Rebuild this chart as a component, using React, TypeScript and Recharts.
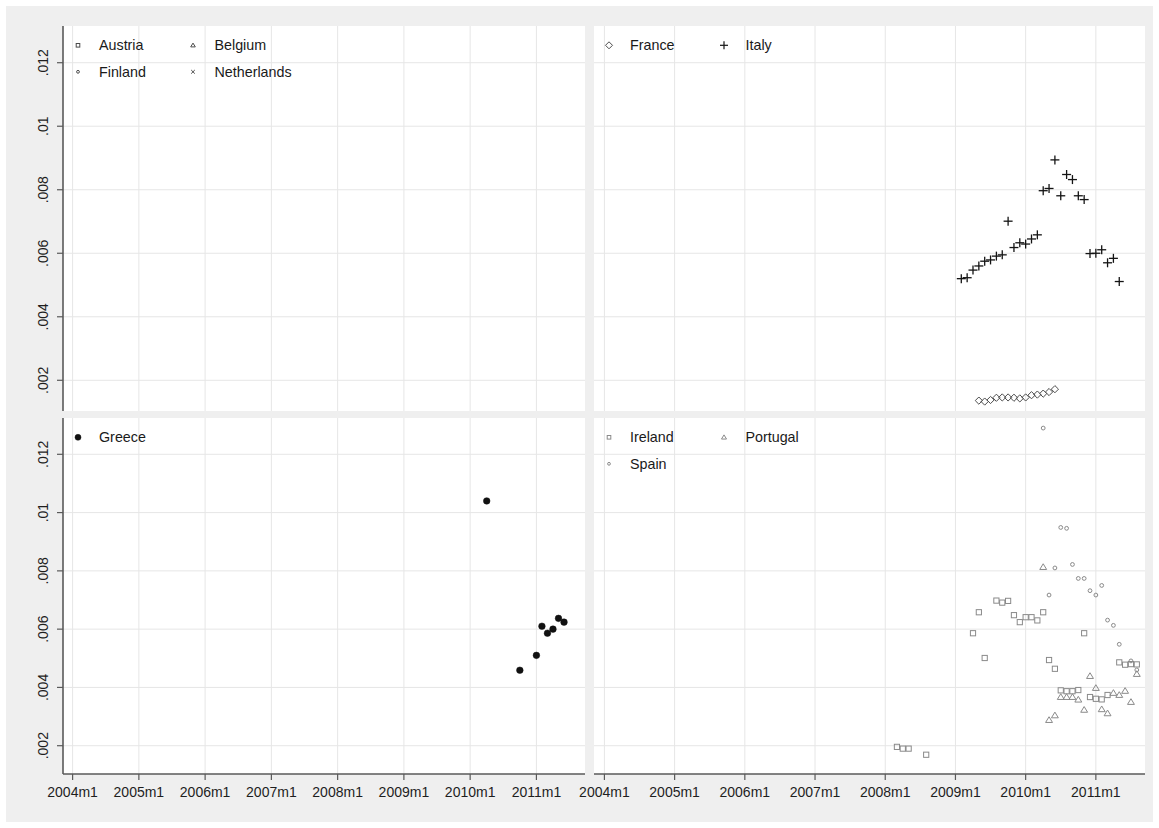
import React from 'react';
import { ScatterChart, Scatter, XAxis, YAxis, CartesianGrid, Legend } from 'recharts';

const FONT = '"Liberation Sans", Arial, Helvetica, sans-serif';
const W = 1159;
const H = 828;

// ---------- axes ----------
const xTickLabels = ['2004m1', '2005m1', '2006m1', '2007m1', '2008m1', '2009m1', '2010m1', '2011m1'];
const yTickValues = [0.002, 0.004, 0.006, 0.008, 0.01, 0.012];
const yTickLabels = ['.002', '.004', '.006', '.008', '.01', '.012'];

const toMonth = (s: string) => {
  const [y, m] = s.split('m').map(Number);
  return (y - 2004) * 12 + (m - 1);
};
const xTickValues = xTickLabels.map(toMonth);

// ---------- data ----------
const italyDates = [
  '2009m2', '2009m3', '2009m4', '2009m5', '2009m6', '2009m7', '2009m8', '2009m9', '2009m10', '2009m11', '2009m12',
  '2010m1', '2010m2', '2010m3', '2010m4', '2010m5', '2010m6', '2010m7', '2010m8', '2010m9', '2010m10', '2010m11', '2010m12',
  '2011m1', '2011m2', '2011m3', '2011m4', '2011m5',
];
const italyValues = [
  0.0052, 0.00523, 0.00547, 0.0056, 0.00575, 0.00579, 0.00591, 0.00595, 0.00701, 0.00618, 0.00633,
  0.00629, 0.00645, 0.00658, 0.00797, 0.00804, 0.00894, 0.00781, 0.00848, 0.00832, 0.00781, 0.00769, 0.00599,
  0.006, 0.00611, 0.0057, 0.00584, 0.00511,
];

const franceDates = [
  '2009m5', '2009m6', '2009m7', '2009m8', '2009m9', '2009m10', '2009m11', '2009m12',
  '2010m1', '2010m2', '2010m3', '2010m4', '2010m5', '2010m6',
];
const franceValues = [
  0.00136, 0.00133, 0.00138, 0.00145, 0.00146, 0.00146, 0.00145, 0.00143,
  0.00146, 0.00153, 0.00155, 0.00158, 0.00163, 0.00172,
];

const greeceDates = ['2010m4', '2010m10', '2011m1', '2011m2', '2011m3', '2011m4', '2011m5', '2011m6'];
const greeceValues = [0.0104, 0.00459, 0.0051, 0.0061, 0.00586, 0.006, 0.00637, 0.00624];

const irelandDates = [
  '2008m3', '2008m4', '2008m5', '2008m8',
  '2009m4', '2009m5', '2009m6', '2009m8', '2009m9', '2009m10', '2009m11', '2009m12',
  '2010m1', '2010m2', '2010m3', '2010m4', '2010m5', '2010m6', '2010m7', '2010m8', '2010m9', '2010m10', '2010m11', '2010m12',
  '2011m1', '2011m2', '2011m3', '2011m5', '2011m6', '2011m7', '2011m8',
];
const irelandValues = [
  0.00196, 0.0019, 0.0019, 0.00169,
  0.00586, 0.00658, 0.00501, 0.00698, 0.00691, 0.00697, 0.00648, 0.00624,
  0.00641, 0.00641, 0.0063, 0.00658, 0.00494, 0.00464, 0.0039, 0.00387, 0.00387, 0.00391, 0.00586, 0.00367,
  0.00361, 0.00359, 0.00374, 0.00486, 0.00478, 0.0048, 0.00479,
];

const portugalDates = [
  '2010m4', '2010m5', '2010m6', '2010m7', '2010m8', '2010m9', '2010m10', '2010m11', '2010m12',
  '2011m1', '2011m2', '2011m3', '2011m4', '2011m5', '2011m6', '2011m7', '2011m8',
];
const portugalValues = [
  0.00813, 0.00288, 0.00304, 0.00367, 0.00367, 0.00367, 0.00358, 0.00323, 0.00439,
  0.00398, 0.00325, 0.00311, 0.00381, 0.00374, 0.00388, 0.0035, 0.00446,
];

const spainDates = [
  '2010m4', '2010m5', '2010m6', '2010m7', '2010m8', '2010m9', '2010m10', '2010m11', '2010m12',
  '2011m1', '2011m2', '2011m3', '2011m4', '2011m5', '2011m7', '2011m8',
];
const spainValues = [
  0.0129, 0.00717, 0.0081, 0.00949, 0.00946, 0.00822, 0.00774, 0.00774, 0.00732,
  0.00717, 0.0075, 0.00631, 0.00613, 0.00548, 0.00491, 0.0046,
];

const build = (dates: string[], values: number[]) =>
  dates.map((d, i) => ({ x: toMonth(d), y: values[i], label: d }));

// ---------- markers ----------
type Kind = 'square' | 'triangle' | 'circle' | 'x' | 'diamond' | 'plus' | 'dot';

const Marker = ({ kind, cx, cy, s, color, sw = 1 }: { kind: Kind; cx: number; cy: number; s: number; color: string; sw?: number }) => {
  switch (kind) {
    case 'square':
      return <rect x={cx - s} y={cy - s} width={2 * s} height={2 * s} fill="none" stroke={color} strokeWidth={sw} />;
    case 'triangle':
      return (
        <polygon
          points={`${cx},${cy - s * 1.1} ${cx - s * 1.15},${cy + s * 0.8} ${cx + s * 1.15},${cy + s * 0.8}`}
          fill="none"
          stroke={color}
          strokeWidth={sw}
        />
      );
    case 'circle':
      return <circle cx={cx} cy={cy} r={s} fill="none" stroke={color} strokeWidth={sw} />;
    case 'x':
      return (
        <g stroke={color} strokeWidth={sw}>
          <line x1={cx - s} y1={cy - s} x2={cx + s} y2={cy + s} />
          <line x1={cx - s} y1={cy + s} x2={cx + s} y2={cy - s} />
        </g>
      );
    case 'diamond':
      return (
        <polygon
          points={`${cx},${cy - s} ${cx + s},${cy} ${cx},${cy + s} ${cx - s},${cy}`}
          fill="none"
          stroke={color}
          strokeWidth={sw}
        />
      );
    case 'plus':
      return (
        <g stroke={color} strokeWidth={sw}>
          <line x1={cx - s} y1={cy} x2={cx + s} y2={cy} />
          <line x1={cx} y1={cy - s} x2={cx} y2={cy + s} />
        </g>
      );
    case 'dot':
    default:
      return <circle cx={cx} cy={cy} r={s} fill={color} stroke={color} strokeWidth={0.5} />;
  }
};

const shapeOf = (kind: Kind, s: number, color: string, sw = 1) => (props: any) => {
  if (props.cx == null || props.cy == null) return <g />;
  return <Marker kind={kind} cx={props.cx} cy={props.cy} s={s} color={color} sw={sw} />;
};

// ---------- ticks ----------
const YTick = (props: any) => {
  const { x, y, payload } = props;
  const idx = yTickValues.findIndex((v) => Math.abs(v - payload.value) < 1e-9);
  const cx = x - 12;
  return (
    <text
      x={cx}
      y={y}
      transform={`rotate(-90, ${cx}, ${y})`}
      textAnchor="middle"
      dominantBaseline="central"
      fontSize={14}
      fontFamily={FONT}
      fill="#1e1e1e"
    >
      {idx >= 0 ? yTickLabels[idx] : ''}
    </text>
  );
};

const XTick = (props: any) => {
  const { x, y, payload } = props;
  const idx = xTickValues.indexOf(payload.value);
  return (
    <text x={x} y={y + 15} textAnchor="middle" fontSize={14} fontFamily={FONT} fill="#1e1e1e">
      {idx >= 0 ? xTickLabels[idx] : ''}
    </text>
  );
};

// ---------- legend ----------
type LegendItem = { name: string; kind: Kind; s: number; color: string; sw?: number };

const makeLegend = (items: LegendItem[]) => () => (
  <svg width={320} height={62} style={{ display: 'block' }}>
    {items.map((it, i) => {
      const col = i % 2;
      const row = Math.floor(i / 2);
      const iconX = col === 0 ? 15 : 130;
      const textX = col === 0 ? 36 : 151.5;
      const cy = 19.3 + row * 26.5;
      return (
        <g key={it.name}>
          <Marker kind={it.kind} cx={iconX} cy={cy} s={it.s} color={it.color} sw={it.sw ?? 1} />
          <text x={textX} y={cy + 5} fontSize={14.3} fontFamily={FONT} fill="#1a1a1a">
            {it.name}
          </text>
        </g>
      );
    })}
  </svg>
);

// ---------- panels ----------
type Series = { name: string; data: { x: number; y: number }[]; kind: Kind; s: number; color: string; sw?: number };

type PanelProps = {
  left: number;
  top: number;
  right: number;
  bottom: number;
  xDomain: [number, number];
  yDomain: [number, number];
  showY: boolean;
  showX: boolean;
  series: Series[];
  legend: LegendItem[];
};

const AXIS_COLOR = '#5a5a5a';
const GRID_COLOR = '#e6e6e6';
const Y_AXIS_W = 50;
const X_AXIS_H = 40;

const Panel = ({ left, top, right, bottom, xDomain, yDomain, showY, showX, series, legend }: PanelProps) => (
  <div style={{ position: 'absolute', left: 0, top: 0, width: W, height: H }}>
    <ScatterChart
      width={W}
      height={H}
      margin={{
        top,
        left: showY ? left - Y_AXIS_W : left,
        right: W - right,
        bottom: showX ? H - bottom - X_AXIS_H : H - bottom,
      }}
    >
      <CartesianGrid
        fill="#ffffff"
        stroke={GRID_COLOR}
        strokeWidth={1}
        horizontalValues={yTickValues}
        verticalValues={xTickValues}
      />
      <XAxis
        type="number"
        dataKey="x"
        domain={xDomain}
        allowDataOverflow
        ticks={xTickValues}
        interval={0}
        hide={!showX}
        height={X_AXIS_H}
        tickSize={6}
        tickMargin={2}
        axisLine={{ stroke: AXIS_COLOR, strokeWidth: 1.6 }}
        tickLine={{ stroke: AXIS_COLOR, strokeWidth: 1.2 }}
        tick={<XTick />}
      />
      <YAxis
        type="number"
        dataKey="y"
        domain={yDomain}
        allowDataOverflow
        ticks={yTickValues}
        interval={0}
        hide={!showY}
        width={Y_AXIS_W}
        tickSize={6}
        tickMargin={2}
        axisLine={{ stroke: AXIS_COLOR, strokeWidth: 1.6 }}
        tickLine={{ stroke: AXIS_COLOR, strokeWidth: 1.2 }}
        tick={<YTick />}
      />
      <Legend
        layout="vertical"
        align="center"
        verticalAlign="middle"
        wrapperStyle={{ left, top, width: 320, height: 62 }}
        content={makeLegend(legend)}
      />
      {series.map((s) => (
        <Scatter
          key={s.name}
          name={s.name}
          data={s.data}
          isAnimationActive={false}
          shape={shapeOf(s.kind, s.s, s.color, s.sw ?? 1)}
        />
      ))}
    </ScatterChart>
  </div>
);

const TOP_Y: [number, number] = [0.001033, 0.013156];
const BOT_Y: [number, number] = [0.001029, 0.013246];
const LEFT_X: [number, number] = [-1.74, 92.8];
const RIGHT_X: [number, number] = [-1.78, 92.4];

const DARK = '#4a4a4a';
const GRAY = '#8a8a8a';

export default function App() {
  return (
    <div style={{ position: 'absolute', left: 0, top: 0, width: W, height: H, background: '#ffffff' }}>
      <div style={{ position: 'absolute', left: 6, top: 6, width: 1147, height: 816, background: '#efefef' }} />
      {/* Top-left: Austria, Belgium, Finland, Netherlands */}
      <Panel
        left={63}
        top={26}
        right={585}
        bottom={411}
        xDomain={LEFT_X}
        yDomain={TOP_Y}
        showY
        showX={false}
        series={[
          { name: 'Austria', data: [], kind: 'square', s: 2.5, color: DARK },
          { name: 'Belgium', data: [], kind: 'triangle', s: 2.5, color: DARK },
          { name: 'Finland', data: [], kind: 'circle', s: 2, color: DARK },
          { name: 'Netherlands', data: [], kind: 'x', s: 2.5, color: DARK },
        ]}
        legend={[
          { name: 'Austria', kind: 'square', s: 1.8, color: DARK },
          { name: 'Belgium', kind: 'triangle', s: 2, color: DARK },
          { name: 'Finland', kind: 'circle', s: 1.4, color: DARK },
          { name: 'Netherlands', kind: 'x', s: 1.8, color: DARK },
        ]}
      />
      {/* Top-right: France, Italy */}
      <Panel
        left={594}
        top={26}
        right={1145}
        bottom={411}
        xDomain={RIGHT_X}
        yDomain={TOP_Y}
        showY={false}
        showX={false}
        series={[
          { name: 'France', data: build(franceDates, franceValues), kind: 'diamond', s: 3.6, color: '#4d4d4d' },
          { name: 'Italy', data: build(italyDates, italyValues), kind: 'plus', s: 4.5, color: '#141414', sw: 1.3 },
        ]}
        legend={[
          { name: 'France', kind: 'diamond', s: 3.5, color: '#4d4d4d' },
          { name: 'Italy', kind: 'plus', s: 4, color: '#141414', sw: 1.2 },
        ]}
      />
      {/* Bottom-left: Greece */}
      <Panel
        left={63}
        top={418}
        right={585}
        bottom={774}
        xDomain={LEFT_X}
        yDomain={BOT_Y}
        showY
        showX
        series={[{ name: 'Greece', data: build(greeceDates, greeceValues), kind: 'dot', s: 3.3, color: '#111111' }]}
        legend={[{ name: 'Greece', kind: 'dot', s: 3, color: '#111111' }]}
      />
      {/* Bottom-right: Ireland, Portugal, Spain */}
      <Panel
        left={594}
        top={418}
        right={1145}
        bottom={774}
        xDomain={RIGHT_X}
        yDomain={BOT_Y}
        showY={false}
        showX
        series={[
          { name: 'Ireland', data: build(irelandDates, irelandValues), kind: 'square', s: 2.6, color: GRAY },
          { name: 'Portugal', data: build(portugalDates, portugalValues), kind: 'triangle', s: 3, color: GRAY },
          { name: 'Spain', data: build(spainDates, spainValues), kind: 'circle', s: 1.9, color: GRAY },
        ]}
        legend={[
          { name: 'Ireland', kind: 'square', s: 1.8, color: GRAY },
          { name: 'Portugal', kind: 'triangle', s: 2.2, color: GRAY },
          { name: 'Spain', kind: 'circle', s: 1.4, color: GRAY },
        ]}
      />
    </div>
  );
}
